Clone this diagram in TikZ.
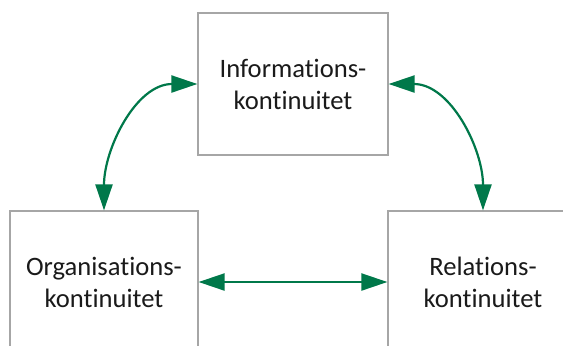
\documentclass[tikz,border=0pt]{standalone}
\usepackage{fontspec}
\setmainfont{Carlito}[Ligatures={NoCommon}]
\usetikzlibrary{arrows.meta,positioning}
\definecolor{linkgreen}{HTML}{00784A}
\definecolor{boxborder}{HTML}{A6A6A6}
\definecolor{textdark}{HTML}{1A1A1A}

\begin{document}
\begin{tikzpicture}[
  x=0.5pt, y=-0.5pt,
  font=\fontsize{13.3}{16}\selectfont,
  box/.style={rectangle, draw=boxborder, line width=0.6pt, fill=white, align=center, minimum width=95pt, minimum height=71pt, inner sep=0pt, text=textdark},
  link/.style={{Triangle[length=13pt, width=8.5pt]}-{Triangle[length=13pt, width=8.5pt]}, line width=1.1pt, draw=linkgreen}
]
\useasboundingbox (0,0) rectangle (563,345);
\clip (0,0) rectangle (563,345);

\node[box] (info) at (293,84) {Informations-\\kontinuitet};
\node[box, minimum width=94pt] (org) at (104,282) {Organisations-\\kontinuitet};
\node[box] (rel) at (483,282) {Relations-\\kontinuitet};

\draw[link] (org.north) to[out=90, in=180] (info.west);
\draw[link] (rel.north) to[out=90, in=0] (info.east);
\draw[link] (org.east) -- (rel.west);

\end{tikzpicture}
\end{document}
